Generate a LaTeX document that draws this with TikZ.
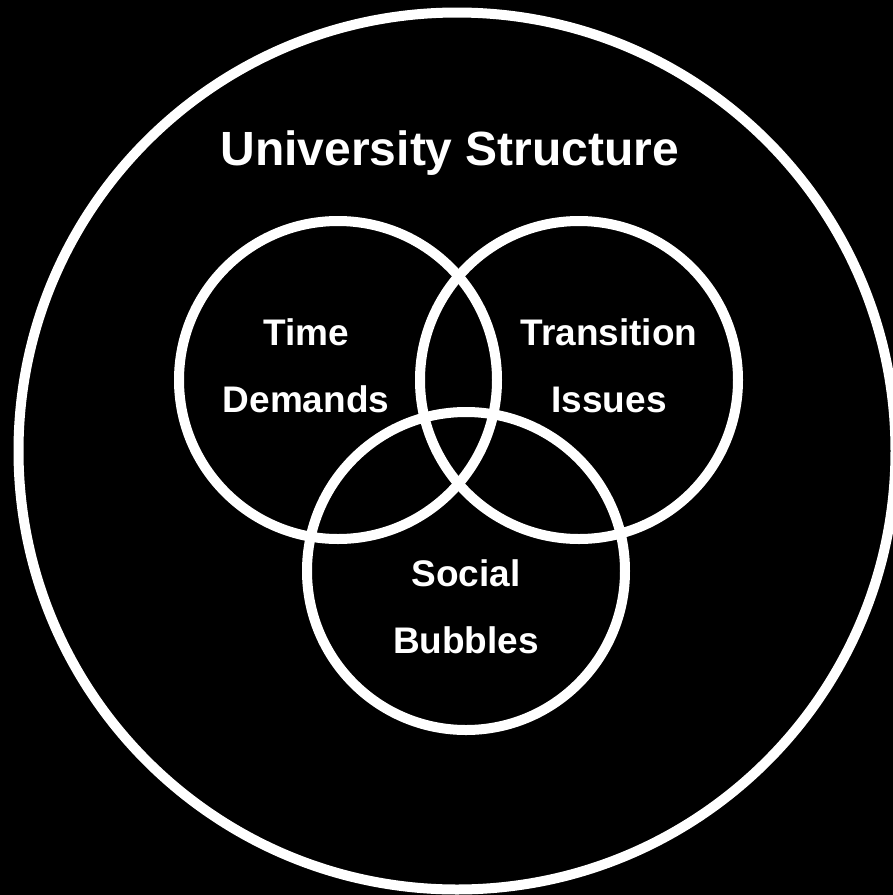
\documentclass[tikz,border=0pt]{standalone}
\usepackage{fontspec}
\setmainfont{Liberation Sans}
\tikzstyle{ring} = [circle, draw=white, line width=5pt, inner sep=0pt,
    minimum size=159pt]
\tikzstyle{caption} = [text=white, align=center, inner sep=0pt,
    font=\bfseries\fontsize{18.5}{33.5}\selectfont]

\begin{document}
\begin{tikzpicture}[x=0.5pt,y=-0.5pt]
  \fill[black] (0,0) rectangle (893,895);
  \useasboundingbox (0,0) rectangle (893,895);

  \node[ring,minimum size=438.5pt] (0) at (457,451) {};
  \node[ring]  (1) at (338,380) {};
  \node[ring]  (2) at (579,380) {};
  \node[ring]  (3) at (466,571) {};

  \node[caption,anchor=base,font=\bfseries\fontsize{24}{28}\selectfont]
               (t0) at (450,165) {University Structure};
  \node[caption] (t1) at (306,366) {Time\\Demands};
  \node[caption] (t2) at (609,366) {Transition\\Issues};
  \node[caption] (t3) at (466,607) {Social\\Bubbles};
\end{tikzpicture}
\end{document}
